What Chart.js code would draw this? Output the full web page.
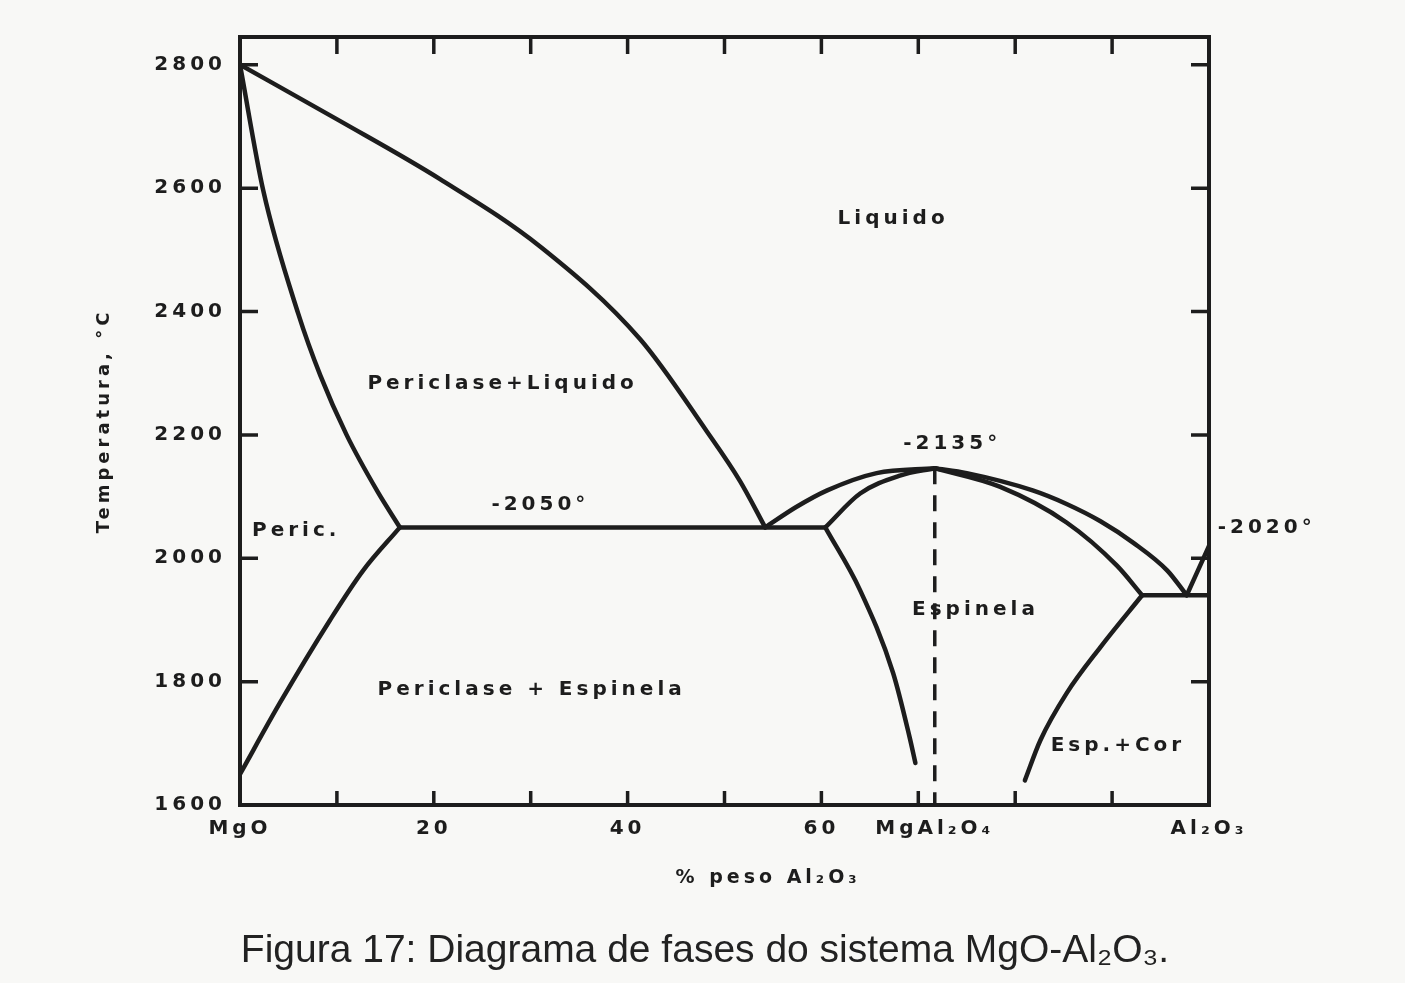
<!DOCTYPE html>
<html>
<head>
<meta charset="utf-8">
<script src="https://cdn.jsdelivr.net/npm/chart.js@4.4.1/dist/chart.umd.min.js"></script>
<style>
    html, body { margin: 0; padding: 0; background: #f8f8f6; }
    #wrap { width: 1405px; height: 983px; position: relative; }
</style>
</head>
<body>
<div id="wrap"><canvas id="c"></canvas></div>
<script>
// x = % peso Al2O3, y = temperatura (°C); every curve listed with x increasing
const liqMgOX = [0, 10.3, 20.6, 31.0, 41.3, 48.2, 51.6, 54.2];
const liqMgOT = [2800, 2709, 2615, 2505, 2355, 2205, 2125, 2050];
const solMgOX = [0, 2.4, 6.0, 8.3, 11.0, 14.2, 16.5];
const solMgOT = [2800, 2596, 2397, 2296, 2200, 2108, 2050];
const solvMgOX = [0, 4.1, 9.3, 12.7, 16.5];
const solvMgOT = [1650, 1765, 1900, 1980, 2050];
const eut1X = [16.5, 60.4];
const eut1T = [2050, 2050];
const liqSpLX = [54.2, 57.4, 60.6, 65.7, 71.7];
const liqSpLT = [2050, 2083, 2110, 2138, 2146];
const solSpLX = [60.4, 64.0, 68.1, 71.7];
const solSpLT = [2050, 2105, 2134, 2146];
const liqSpRX = [71.7, 75.0, 81.8, 85.3, 88.8, 92.2, 95.7, 97.7];
const liqSpRT = [2146, 2138, 2110, 2088, 2060, 2025, 1980, 1940];
const solSpRX = [71.7, 78.4, 85.3, 90.5, 93.1];
const solSpRT = [2146, 2116, 2058, 1988, 1940];
const solvSpLX = [60.4, 64.0, 67.4, 69.1, 69.7];
const solvSpLT = [2050, 1948, 1814, 1710, 1668];
const solvSpRX = [81.0, 82.6, 85.3, 88.8, 93.1];
const solvSpRT = [1640, 1705, 1781, 1856, 1940];
const eut2X = [93.1, 100];
const eut2T = [1940, 1940];
const liqAlX = [97.7, 100];
const liqAlT = [1940, 2020];
const spinelX = [71.7, 71.7];
const spinelT = [2146, 1600];

const xLabelValues = [0, 20, 40, 60, 71.7, 100];
const xLabelTexts = ["MgO", "20", "40", "60", "MgAl₂O₄", "Al₂O₃"];
const xTickMarks = [10, 20, 30, 40, 50, 60, 70, 80, 90];
const yTickValues = [1600, 1800, 2000, 2200, 2400, 2600, 2800];

const regionTexts = ["Liquido", "Periclase+Liquido", "-2050°", "Peric.", "-2135°", "-2020°",
    "Espinela", "Periclase + Espinela", "Esp.+Cor"];
const regionX = [67.4, 27.1, 31.0, 5.8, 73.5, 100.9, 75.9, 30.1, 90.6];
const regionT = [2551, 2283, 2086, 2045, 2186, 2050, 1917, 1786, 1696];

const INK = "#1d1d1d";
const SPACING = "4px";

function pts(xs, ts) {
    return xs.map((x, i) => ({ x: x, y: ts[i] }));
}

function line(data, extra) {
    return Object.assign({
        data: data,
        showLine: true,
        borderColor: INK,
        borderWidth: 4.5,
        pointRadius: 0,
        cubicInterpolationMode: "monotone",
        borderCapStyle: "round",
        borderJoinStyle: "round",
        fill: false,
    }, extra || {});
}

const paper = {
    id: "paper",
    beforeLayout(chart) {
        chart.ctx.letterSpacing = SPACING;
    },
    beforeDraw(chart) {
        chart.ctx.letterSpacing = SPACING;
    },
    afterDraw(chart) {
        const ctx = chart.ctx;
        const a = chart.chartArea;
        const xs = chart.scales.x;
        const ys = chart.scales.y;
        ctx.save();
        ctx.strokeStyle = INK;
        ctx.lineCap = "butt";
        ctx.lineWidth = 4;
        ctx.strokeRect(a.left, a.top, a.right - a.left, a.bottom - a.top);

        ctx.lineWidth = 3.5;
        ctx.beginPath();
        xTickMarks.forEach((v) => {
            const p = xs.getPixelForValue(v);
            ctx.moveTo(p, a.top);
            ctx.lineTo(p, a.top + 17);
            ctx.moveTo(p, a.bottom);
            ctx.lineTo(p, a.bottom - 14);
        });
        yTickValues.forEach((v) => {
            if (v === ys.min) return;
            const p = ys.getPixelForValue(v);
            ctx.moveTo(a.left, p);
            ctx.lineTo(a.left + 18, p);
            ctx.moveTo(a.right, p);
            ctx.lineTo(a.right - 18, p);
        });
        ctx.stroke();

        // region labels
        ctx.fillStyle = INK;
        ctx.letterSpacing = SPACING;
        ctx.font = 'bold 20px "DejaVu Sans"';
        ctx.textBaseline = "middle";
        regionTexts.forEach((t, i) => {
            ctx.textAlign = t === "-2020°" ? "left" : "center";
            ctx.fillText(t, xs.getPixelForValue(regionX[i]), ys.getPixelForValue(regionT[i]));
        });

        // x axis title, centred under the 55 % mark as in the original
        ctx.font = 'bold 19px "DejaVu Sans"';
        ctx.textAlign = "center";
        ctx.fillText("% peso Al₂O₃", xs.getPixelForValue(54.5), 878);

        // caption
        ctx.letterSpacing = "0px";
        ctx.font = '39px "Liberation Sans", Arial, sans-serif';
        ctx.textBaseline = "alphabetic";
        ctx.fillStyle = "#222";
        ctx.fillText("Figura 17: Diagrama de fases do sistema MgO-Al₂O₃.", 705, 962);
        ctx.restore();
    },
};

const tickFont = { family: "DejaVu Sans", size: 20, weight: "bold" };

new Chart(document.getElementById("c"), {
    type: "scatter",
    data: {
        datasets: [
            line(pts(liqMgOX, liqMgOT)),
            line(pts(solMgOX, solMgOT)),
            line(pts(solvMgOX, solvMgOT)),
            line(pts(eut1X, eut1T)),
            line(pts(liqSpLX, liqSpLT)),
            line(pts(solSpLX, solSpLT)),
            line(pts(liqSpRX, liqSpRT)),
            line(pts(solSpRX, solSpRT)),
            line(pts(solvSpLX, solvSpLT)),
            line(pts(solvSpRX, solvSpRT)),
            line(pts(eut2X, eut2T)),
            line(pts(liqAlX, liqAlT)),
            line(pts(spinelX, spinelT), {
                cubicInterpolationMode: "default",
                tension: 0,
                borderWidth: 3.5,
                borderDash: [16, 11],
                borderCapStyle: "butt",
            }),
        ],
    },
    options: {
        responsive: true,
        maintainAspectRatio: false,
        animation: false,
        layout: { padding: { top: 37, right: 196, bottom: 0, left: 0 } },
        plugins: {
            legend: { display: false },
            tooltip: { enabled: false },
        },
        scales: {
            x: {
                type: "linear",
                min: 0,
                max: 100,
                grid: { display: false, drawTicks: false },
                border: { display: false },
                afterBuildTicks(scale) {
                    scale.ticks = xLabelValues.map((v) => ({ value: v }));
                },
                afterFit(scale) {
                    scale.height = 178;
                },
                ticks: {
                    autoSkip: false,
                    maxRotation: 0,
                    padding: 12,
                    color: INK,
                    font: tickFont,
                    callback: (v) => xLabelTexts[xLabelValues.indexOf(v)],
                },
            },
            y: {
                type: "linear",
                min: 1600,
                max: 2845,
                grid: { display: false, drawTicks: false },
                border: { display: false },
                afterBuildTicks(scale) {
                    scale.ticks = yTickValues.map((v) => ({ value: v }));
                },
                afterFit(scale) {
                    scale.width = 240;
                },
                ticks: {
                    padding: 14,
                    color: INK,
                    font: tickFont,
                    callback: (v) => String(v),
                },
                title: {
                    display: true,
                    text: "Temperatura, °C",
                    color: INK,
                    font: { family: "DejaVu Sans", size: 18, weight: "bold" },
                    padding: { top: 94, bottom: 0 },
                },
            },
        },
    },
    plugins: [paper],
});
</script>
</body>
</html>
